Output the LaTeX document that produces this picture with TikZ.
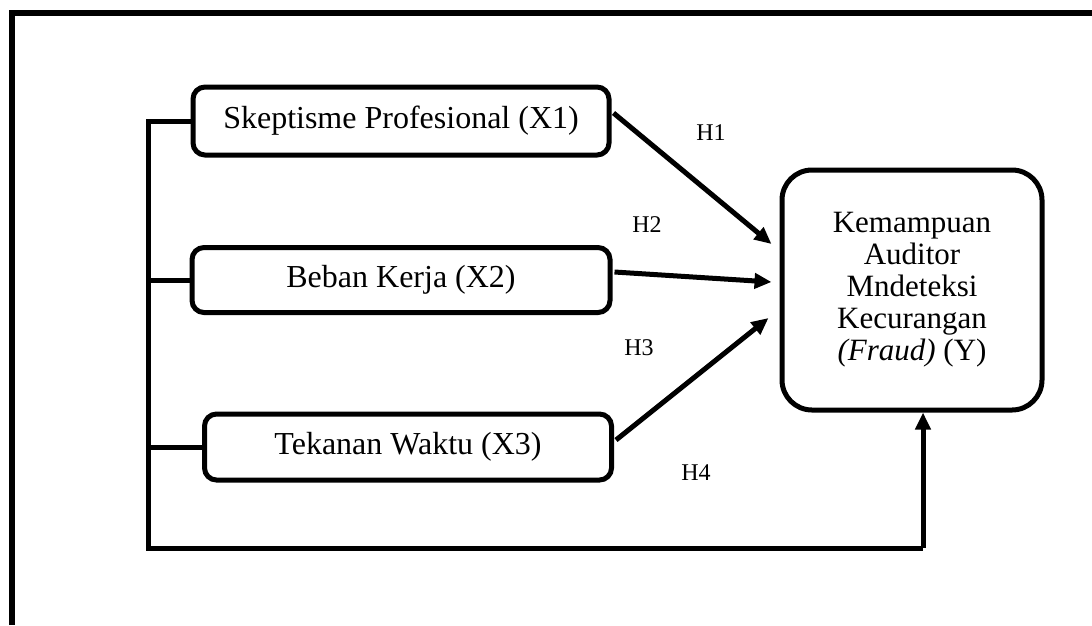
\documentclass[tikz,border=0pt]{standalone}
\usepackage{fontspec}
\setmainfont{Liberation Serif}
\usetikzlibrary{arrows.meta,calc}
\tikzset{every picture/.style={x=1pt,y=-1pt}}

\begin{document}
\begin{tikzpicture}[var/.style={draw,line width=5pt,rounded corners=12pt,inner sep=0pt,
                      font=\fontsize{32}{34}\selectfont},
                    dep/.style={draw,line width=5pt,rounded corners=30pt,inner sep=0pt,
                      align=center,font=\fontsize{31}{32}\selectfont},
                    hyp/.style={font=\fontsize{24}{26}\selectfont},
                    link/.style={line width=5pt},
                    arr/.style={line width=5pt,-{Triangle[length=17pt,width=15pt]}}]
        \useasboundingbox (0,0) rectangle (1092,625);
        \draw [line width=6pt] (12,625) -- (12,13) -- (1092,13);

        \node [var,minimum width=416pt,minimum height=68pt] (x1) at (401,121) {Skeptisme Profesional (X1)};
        \node [var,minimum width=418pt,minimum height=65pt] (x2) at (401,280) {Beban Kerja (X2)};
        \node [var,minimum width=407pt,minimum height=66pt] (x3) at (408,447) {Tekanan Waktu (X3)};
        \node [dep,minimum width=260pt,minimum height=240pt] (y) at (912,290)
              {Kemampuan\\Auditor\\Mndeteksi\\Kecurangan\\\textit{(Fraud)} (Y)};

        \node [hyp] (h1) at (711,133) {H1};
        \node [hyp] (h2) at (647,225) {H2};
        \node [hyp] (h3) at (639,348) {H3};
        \node [hyp] (h4) at (696,473) {H4};

        \coordinate (bl) at (148,548);
        \coordinate (br) at (923,548);

        \draw [link] (x1.west) -| (bl) -- (br);
        \draw [link] (x2.west) -- (x2.west -| bl);
        \draw [link] (x3.west) -- (x3.west -| bl);

        \draw [arr] ($(x1.east)+(2,-8)$) -- ($(y.west)+(-8,-46)$);
        \draw [arr] ($(x2.east)+(2,-8)$) -- ($(y.west)+(-8,-8)$);
        \draw [arr] ($(x3.east)+(2,-7)$) -- ($(y.west)+(-11,28)$);
        \draw [arr] (br) -- (br |- y.south);
      \end{tikzpicture}
\end{document}
